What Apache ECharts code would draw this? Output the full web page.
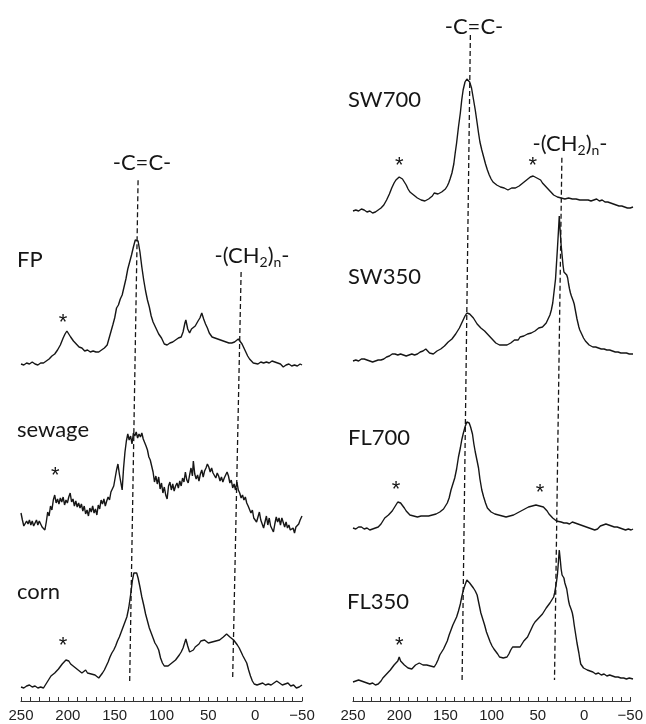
<!DOCTYPE html>
<html>
<head>
<meta charset="utf-8">
<script src="https://cdn.jsdelivr.net/npm/echarts@6/dist/echarts.min.js"></script>
<style>
html, body { margin: 0; padding: 0; background: #fff; }
#chart { width: 646px; height: 724px; }
</style>
</head>
<body>
<div id="chart"></div>
<script>
// 13C NMR spectra, [ppm, intensity]
var fp = [[250,1],[247,0],[244,2],[241,1],[238,3],[235,1],[232,0],[229,2],[226,2],[223,4],[220,6],[217,9],[214,11],[211,15],[208,20],[205,27],[203,31],[201,34],[199,32],[197,28],[194,24],[191,21],[188,18],[185,17],[182,14],[179,15],[176,13],[173,14],[170,13],[167,13],[164,15],[161,17],[158,20],[155,30],[152,40],[150,47],[148,57],[146,60],[144,66],[142,70],[140,78],[138,86],[136,96],[134,103],[132,110],[130,118],[128,125],[127,127],[125,124],[123,113],[121,98],[119,85],[117,74],[115,65],[113,58],[111,49],[109,43],[106,37],[103,31],[100,27],[97,21],[94,20],[91,22],[88,23],[85,25],[82,27],[79,28],[77,33],[75,42],[74,45],[72,36],[70,32],[68,36],[66,37],[64,39],[61,44],[59,47],[57,52],[55,46],[53,41],[51,37],[49,32],[46,28],[43,27],[40,26],[37,25],[34,24],[31,23],[28,22],[25,22],[22,23],[20,24],[18,26],[16,24],[14,21],[12,17],[10,13],[8,9],[6,6],[4,4],[2,2],[0,2],[-3,1],[-6,3],[-9,2],[-12,3],[-15,2],[-18,4],[-21,3],[-24,2],[-27,1],[-30,-2],[-33,0],[-36,1],[-39,-1],[-42,0],[-45,-1],[-48,1],[-50,0]];

var sewage = [[250,17],[248.5,10],[247,4],[245.5,2],[244,9],[242.5,6],[241,10],[239.5,5],[238,9],[236.5,4],[235,6],[233.5,10],[232,5],[230.5,9],[229,7],[227.5,3],[226,5],[224.5,0],[223,8],[221.5,18],[220,14],[218.5,24],[217,20],[215.5,30],[214,35],[212.5,27],[211,31],[209.5,26],[208,32],[206.5,28],[205,33],[203.5,25],[202,30],[200.5,27],[199,33],[197.5,37],[196,28],[194.5,31],[193,24],[191.5,29],[190,23],[188.5,27],[187,22],[185.5,26],[184,19],[182.5,24],[181,16],[179.5,20],[178,14],[176.5,22],[175,18],[173.5,24],[172,17],[170.5,21],[169,15],[167.5,25],[166,21],[164.5,30],[163,26],[161.5,31],[160,24],[158.5,29],[157,33],[155.5,30],[154,38],[152.5,36],[151,44],[149.5,52],[148,60],[146.5,66],[145,56],[143.5,48],[142,40],[140.5,62],[139,78],[137.5,89],[136,96],[134.5,90],[133,94],[131.5,86],[130,97],[128.5,94],[127,98],[125.5,92],[124,96],[122.5,93],[121,97],[119.5,91],[118,89],[116.5,84],[115,80],[113.5,73],[112,70],[110.5,64],[109,58],[107.5,48],[106,54],[104.5,46],[103,53],[101.5,41],[100,47],[98.5,37],[97,43],[95.5,35],[94,31],[92.5,44],[91,48],[89.5,40],[88,46],[86.5,39],[85,44],[83.5,47],[82,42],[80.5,49],[79,44],[77.5,52],[76,48],[74.5,58],[73,50],[71.5,47],[70,55],[68.5,62],[67,54],[66,69],[64.5,56],[63,51],[61.5,55],[60,49],[58.5,56],[57,60],[55.5,53],[54,59],[52.5,62],[51,66],[49.5,63],[48,58],[46.5,62],[45,57],[43.5,56],[42,52],[40.5,57],[39,54],[37.5,49],[36,53],[34.5,48],[33,52],[31.5,50],[30,58],[28.5,54],[27,47],[25.5,50],[24,42],[22.5,46],[21,40],[19.5,48],[18,40],[16.5,37],[15,32],[13.5,35],[12,30],[10.5,33],[9,27],[7.5,24],[6,22],[4.5,17],[3,20],[1.5,12],[0,14],[-1.5,8],[-3,13],[-4.5,18],[-6,10],[-7.5,6],[-9,2],[-10.5,8],[-12,14],[-13.5,5],[-15,12],[-16.5,4],[-18,2],[-19.5,-2],[-21,6],[-22.5,13],[-24,8],[-25.5,12],[-27,5],[-28.5,12],[-30,10],[-31.5,3],[-33,8],[-34.5,2],[-36,5],[-37.5,0],[-39,-2],[-40.5,2],[-42,-3],[-43.5,3],[-45,1],[-46.5,6],[-48,10],[-50,14]];

var corn = [[250,1],[247,0],[244,2],[241,3],[238,1],[235,2],[232,0],[229,1],[226,0],[224,3],[222,6],[220,9],[218,12],[216,13],[214,15],[212,16],[210,19],[208,21],[206,24],[204,26],[202,28],[201,29],[199,27],[197,24],[195,22],[193,21],[191,20],[189,18],[187,16],[185,15],[183,17],[181,18],[179,15],[177,13],[175,14],[173,15],[171,13],[169,12],[167,10],[165,12],[163,15],[161,18],[159,22],[157,26],[155,31],[153,35],[151,38],[149,42],[147,47],[145,51],[143,56],[141,61],[139,66],[137,71],[135,80],[133,93],[131,108],[129.5,115],[128,117],[126.5,115],[125,110],[123,101],[121,91],[119,83],[117,74],[115,67],[113,60],[111,55],[109,50],[107,45],[105,42],[103,38],[101,30],[99,25],[97,22],[95,21],[93,22],[91,23],[89,25],[87,26],[85,28],[83,30],[81,33],[79,36],[77,40],[75,46],[74,49],[72,42],[70,36],[68,37],[66,38],[64,41],[62,40],[60,44],[58,47],[56,46],[54,48],[52,47],[50,45],[48,47],[46,46],[44,48],[42,47],[40,49],[38,48],[36,50],[34,51],[32,52],[30.5,54],[29,52],[27,51],[25,50],[23,48],[21,46],[19,43],[17,40],[15,36],[13,32],[11,30],[9,25],[7,18],[5,12],[3,7],[1,4],[-2,3],[-5,4],[-8,5],[-11,3],[-14,4],[-17,3],[-20,5],[-23,7],[-26,5],[-29,3],[-32,4],[-35,5],[-38,2],[-41,3],[-44,0],[-47,1],[-50,3]];

var sw700 = [[250,1],[247,2],[244,1],[241,3],[238,2],[235,0],[232,1],[229,-1],[226,0],[223,2],[220,4],[217,7],[214,12],[211,18],[208.5,24],[206,29],[204,32],[202,34],[200.5,35],[199,34],[197,33],[195,30],[193,27],[191,23],[189,20],[187,18],[185,17],[183,15],[181,14],[179,13],[177,12],[175,13],[173,11],[171,11],[169,13],[167,14],[165,16],[163,19],[161,18],[159,18],[157,19],[155,20],[153,20],[151,23],[149,26],[147.5,29],[146,33],[144,39],[142,48],[140.5,59],[139,69],[137,85],[135,99],[133.5,112],[132,122],[130,130],[128,133],[126.5,133],[125,130],[123,124],[121,113],[119,102],[117,89],[115.5,79],[114,70],[112,62],[110,55],[108,48],[106,42],[104,37],[102,33],[100,30],[98,28],[96,27],[94,26],[92,25],[90,26],[88,24],[86,23],[84,22],[82,23],[80,24],[78,23],[76,24],[74,25],[72,26],[70,27],[68,29],[66,30],[64,32],[62,34],[60,35],[58,36],[57,36],[55,35],[53,34],[51,33],[49,32],[47,29],[45,27],[43,25],[41,23],[39,21],[37,19],[35,17],[33,16],[31,15],[29,15],[27,14],[25,14],[23,13],[21,13],[19,14],[17,13],[15,13],[13,12],[11,13],[9,12],[7,12],[5,13],[3,12],[1,11],[-2,12],[-5,11],[-8,12],[-11,13],[-14,11],[-17,12],[-20,10],[-23,10],[-26,9],[-29,8],[-32,7],[-35,6],[-38,6],[-41,5],[-44,4],[-47,4],[-50,5]];

var sw350 = [[250,0],[247,1],[244,0],[241,2],[238,2],[235,1],[232,0],[229,-1],[226,0],[223,1],[220,1],[217,2],[214,4],[211,5],[208,7],[205,7],[202,6],[199,7],[196,6],[193,5],[190,6],[187,7],[184,6],[181,7],[178,9],[175,10],[172,12],[170,10],[168,8],[166,7],[164,7],[162,8],[160,10],[158,11],[156,12],[154,14],[152,15],[150,17],[148,19],[146,21],[144,22],[142,24],[140,27],[138,30],[136,33],[134,37],[132,41],[130,45],[128,48],[126.5,48],[125,47],[123,46],[121,43],[119,40],[117,37],[115,35],[113,33],[111,32],[109,30],[107,28],[105,26],[103,24],[101,22],[99,20],[97,18],[95,16],[93,16],[91,17],[89,16],[87,17],[85,16],[83,17],[81,18],[79,19],[77,21],[75,22],[73,21],[71,24],[69,25],[67,25],[65,26],[63,27],[61,28],[59,28],[57,29],[55,30],[53,31],[51,33],[49,33],[47,34],[45,36],[43,38],[41,42],[39,46],[37.5,51],[36,58],[35,66],[34,74],[33,82],[32,97],[31,112],[30,128],[29,145],[28,130],[27,116],[26,106],[25,96],[24,89],[23,87],[22,87],[21,86],[20,83],[19,77],[18,72],[17,68],[16,65],[15,64],[14,60],[13,57],[12,52],[11,47],[10,42],[9,38],[8,34],[7,31],[5,27],[3,23],[1,20],[-1,18],[-3,16],[-5,15],[-7,14],[-10,14],[-13,13],[-16,12],[-19,12],[-22,11],[-25,11],[-28,10],[-31,9],[-34,9],[-37,8],[-40,8],[-43,8],[-46,7],[-50,7]];

var fl700 = [[250,2],[247,1],[244,3],[241,3],[238,1],[235,2],[232,0],[229,1],[226,2],[223,3],[220,6],[218,9],[216,12],[214,14],[212,15],[210,17],[208,19],[206,22],[204,25],[202,28],[200.5,29],[199,27],[197,25],[195,22],[193,19],[191,17],[189,15],[187,13],[185,14],[183,12],[181,13],[179,15],[177,14],[175,15],[173,14],[171,15],[169,14],[167,15],[165,15],[163,16],[161,16],[159,17],[157,18],[155,19],[153,21],[151,23],[149,27],[147,32],[145,40],[143,46],[141,52],[139,61],[137,73],[135,82],[133.5,90],[132,96],[130,103],[128,108],[127,109],[125.5,107],[124,103],[122,96],[120.5,86],[119,78],[117,69],[115.5,62],[114,51],[112,40],[110,33],[108,27],[106,22],[104,20],[102,18],[100,17],[98,16],[96,15],[94,15],[92,15],[90,14],[88,14],[86,13],[84,14],[82,14],[80,15],[78,15],[76,16],[74,17],[72,18],[70,19],[68,20],[66,21],[64,22],[62,23],[60,24],[58,24],[56,25],[54,25],[52,25],[50,24],[48,24],[46,23],[44,21],[42,19],[40,16],[38,14],[36,12],[34,10],[32,9],[30,8],[27,8],[24,7],[21,7],[18,6],[15,8],[12,7],[9,6],[6,5],[3,4],[0,3],[-3,2],[-6,1],[-9,0],[-12,1],[-15,4],[-18,5],[-21,6],[-24,5],[-27,4],[-30,3],[-33,3],[-36,2],[-39,1],[-42,0],[-45,1],[-48,0],[-50,1]];

var fl350 = [[250,3],[247,4],[244,5],[241,4],[238,3],[235,2],[232,1],[229,2],[226,0],[223,1],[220,4],[218,7],[216,9],[214,11],[212,13],[210,15],[208,17],[206,20],[204,22],[202,24],[200.5,28],[199,24],[198,26],[197,22],[195,20],[193,18],[191,17],[189,15],[187,16],[185,18],[183,20],[181,21],[179,22],[177,21],[175,20],[173,21],[171,20],[169,19],[167,19],[165,18],[163,18],[161,21],[159,25],[157,30],[155,33],[153,36],[151,38],[149,44],[147,50],[145,55],[143,60],[141,64],[139,68],[137,74],[135,81],[133.5,88],[132,94],[130,100],[128,105],[126.5,103],[125,102],[123,100],[121,97],[119,94],[117,90],[115,81],[113,72],[111,66],[109,60],[107,53],[105,48],[103,43],[101,39],[99,36],[97,34],[95,31],[93,28],[91,26],[89,27],[87,28],[85,28],[83,31],[81,35],[79,38],[77,37],[75,38],[73,38],[71,38],[69,41],[67,44],[65,46],[63,48],[61,52],[59,56],[57,60],[55,63],[53,65],[51,67],[49,68],[47,71],[45,74],[43,77],[41,79],[39,82],[37,85],[35,88],[34,92],[33,97],[32,103],[31,110],[30,122],[29,135],[28,126],[27,116],[26,110],[25,110],[24,107],[23,102],[22,99],[21,96],[20,90],[19,84],[18,80],[17,78],[16,75],[15,72],[14,67],[13,60],[12,54],[11,48],[10,42],[9,37],[8,32],[7,26],[6,21],[5,19],[3,17],[1,16],[-1,15],[-4,14],[-7,13],[-10,11],[-13,12],[-16,10],[-19,11],[-22,9],[-25,10],[-28,9],[-31,8],[-34,8],[-37,7],[-40,7],[-43,6],[-46,7],[-50,6]];

// spinning sideband markers (*), [ppm, intensity]
var starsFP = [[205, 42]];
var starsSewage = [[213.5, 54]];
var starsCorn = [[205, 42]];
var starsSW700 = [[200.5, 46], [57.5, 46]];
var starsSW350 = [];
var starsFL700 = [[204, 40], [49.5, 37]];
var starsFL350 = [[200.5, 39]];

// dashed guide lines, [ppm, fraction of panel height]
var guideLeftCC = [[125, 0.743], [134, 0.026]];
var guideLeftCH2 = [[15, 0.612], [24, 0.034]];
var guideRightCC = [[123, 0.95], [132, 0.027]];
var guideRightCH2 = [[24, 0.775], [32, 0.03]];

var panels = [
  { left: 21, right: 344, guides: [guideLeftCC, guideLeftCH2],
    spectra: [
      { name: 'FP', data: fp, stars: starsFP, base: 365 },
      { name: 'sewage', data: sewage, stars: starsSewage, base: 530 },
      { name: 'corn', data: corn, stars: starsCorn, base: 688 }
    ] },
  { left: 353, right: 13, guides: [guideRightCC, guideRightCH2],
    spectra: [
      { name: 'SW700', data: sw700, stars: starsSW700, base: 212 },
      { name: 'SW350', data: sw350, stars: starsSW350, base: 361 },
      { name: 'FL700', data: fl700, stars: starsFL700, base: 530 },
      { name: 'FL350', data: fl350, stars: starsFL350, base: 685 }
    ] }
];

var AXIS_Y = 701;
var ink = '#161616';
var grids = [], xAxes = [], yAxes = [], series = [];

panels.forEach(function (p) {
  // axis / guide grid for the whole panel
  var gi = grids.length;
  grids.push({ left: p.left, right: p.right, top: 0, height: AXIS_Y });
  xAxes.push({
    gridIndex: gi, type: 'value', min: -50, max: 250, interval: 50, inverse: true,
    axisLine: { lineStyle: { color: '#333', width: 1.2 } },
    axisTick: { inside: true, length: 4, lineStyle: { color: '#333' } },
    minorTick: { show: true, splitNumber: 5, length: 4, lineStyle: { color: '#333' } },
    splitLine: { show: false },
    axisLabel: {
      fontSize: 15, fontFamily: 'Liberation Sans', color: '#222', margin: 7,
      showMinLabel: true, showMaxLabel: true,
      formatter: function (v) { return v < 0 ? '\u2212' + Math.abs(v) : String(v); }
    }
  });
  yAxes.push({ gridIndex: gi, type: 'value', min: 0, max: 1, show: false });
  p.guides.forEach(function (g) {
    series.push({
      type: 'line', xAxisIndex: gi, yAxisIndex: gi, data: g, showSymbol: false,
      lineStyle: { color: ink, width: 1.3, type: [5, 3] }, silent: true
    });
  });

  p.spectra.forEach(function (s) {
    var si = grids.length;
    grids.push({ left: p.left, right: p.right, top: s.base - 150, height: 160 });
    xAxes.push({ gridIndex: si, type: 'value', min: -50, max: 250, inverse: true, show: false });
    yAxes.push({ gridIndex: si, type: 'value', min: -10, max: 150, show: false });
    series.push({
      name: s.name, type: 'line', xAxisIndex: si, yAxisIndex: si,
      data: s.data, showSymbol: false, clip: false,
      lineStyle: { color: ink, width: 1.4 },
      markPoint: {
        symbol: 'circle', symbolSize: 1, itemStyle: { color: 'rgba(0,0,0,0)' },
        label: { show: true, position: 'inside', formatter: '*', fontSize: 22,
          fontFamily: 'Liberation Sans', color: ink },
        data: s.stars.map(function (c) { return { coord: c }; })
      }
    });
  });
});

var nameFont = '22px Lato';
function label(text, x, y, align) {
  return { type: 'text', x: x, y: y, style: { text: text, font: nameFont, fill: ink,
    align: align || 'left', verticalAlign: 'middle' } };
}
function ch2(x, y) {
  return { type: 'text', x: x, y: y, style: {
    text: '{a|-(CH}{s|2}{a|)}{s|n}{a|-}', align: 'center', verticalAlign: 'middle',
    rich: {
      a: { font: nameFont, fill: ink, lineHeight: 26, verticalAlign: 'middle' },
      s: { font: '14px Lato', fill: ink, lineHeight: 26, verticalAlign: 'bottom' }
    } } };
}

var option = {
  animation: false,
  grid: grids, xAxis: xAxes, yAxis: yAxes, series: series,
  graphic: [
    label('FP', 17, 260), label('sewage', 17, 430), label('corn', 17, 592),
    label('SW700', 348, 100), label('SW350', 348, 277), label('FL700', 348, 438), label('FL350', 347, 602),
    label('-C=C-', 142, 163, 'center'), label('-C=C-', 474, 27, 'center'),
    ch2(252, 256), ch2(570, 144)
  ]
};

var chart = echarts.init(document.getElementById('chart'));
chart.setOption(option);
</script>
</body>
</html>
